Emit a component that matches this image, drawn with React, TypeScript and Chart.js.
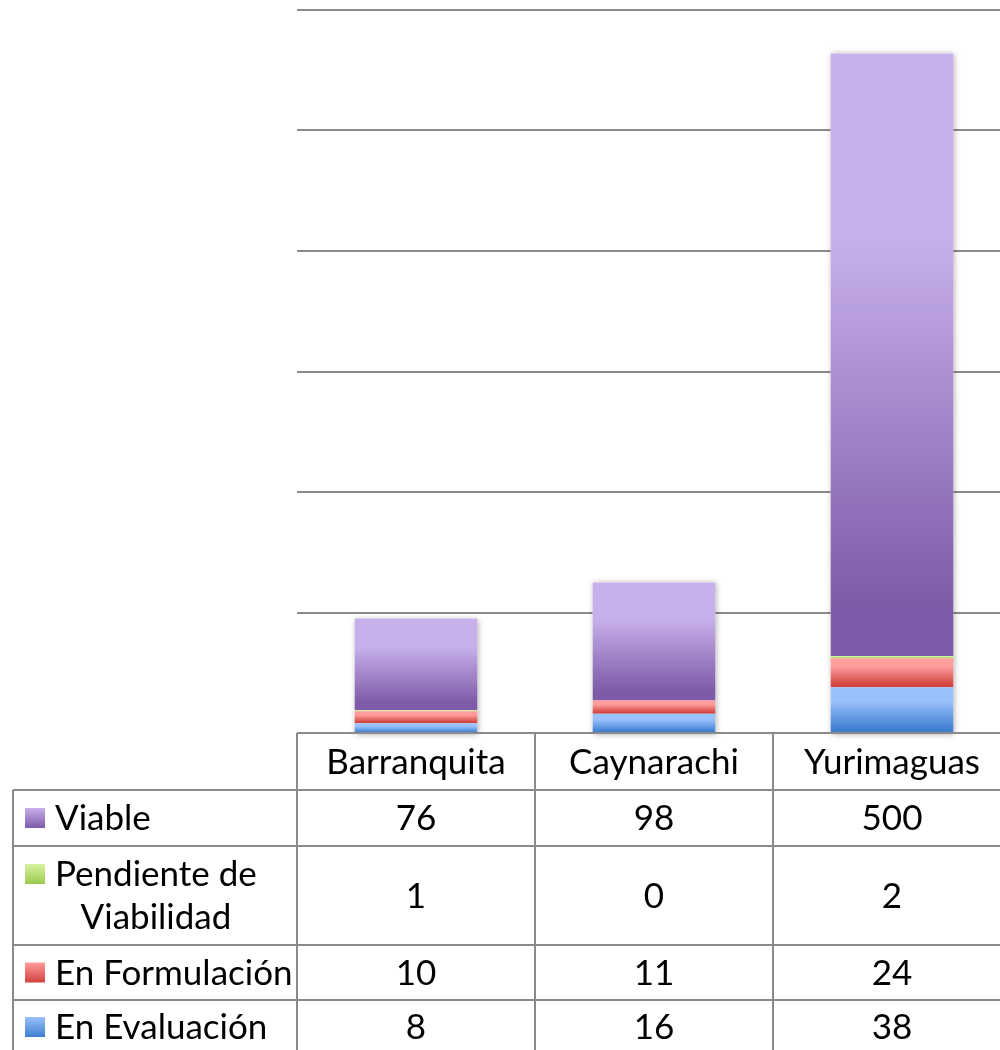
import React, { useEffect, useRef } from "react";
import { Chart, registerables } from "chart.js";

Chart.register(...registerables);

const categories = ["Barranquita", "Caynarachi", "Yurimaguas"];
const enEvaluacion = [8, 16, 38];
const enFormulacion = [10, 11, 24];
const pendienteViabilidad = [1, 0, 2];
const viable = [76, 98, 500];
const yMin = 0;
const yMax = 600;
const yStep = 100;

// stack order bottom -> top
const seriesLabels = ["En Evaluación", "En Formulación", "Pendiente de Viabilidad", "Viable"];
const seriesValues = [enEvaluacion, enFormulacion, pendienteViabilidad, viable];
const seriesLight = ["#99c1fb", "#fe9d9c", "#d7f2a0", "#c8b1eb"];
const seriesDark = ["#3e7fd1", "#d2423e", "#9bca4e", "#7d5ba8"];

// table rows (top -> bottom) with wrapped legend labels
const tableRows = [
  { series: 3, lines: ["Viable"] },
  { series: 2, lines: ["Pendiente de", "Viabilidad"] },
  { series: 1, lines: ["En Formulación"] },
  { series: 0, lines: ["En Evaluación"] },
];

const FONT = "35px Lato, 'Noto Sans', sans-serif";
const LINE = "#8a8a8a";

function makeGradient(ctx: CanvasRenderingContext2D, y0: number, y1: number, s: number) {
  if (!isFinite(y0) || !isFinite(y1) || Math.abs(y1 - y0) < 0.5) return seriesLight[s];
  const g = ctx.createLinearGradient(0, y0, 0, y1);
  g.addColorStop(0, seriesLight[s]);
  g.addColorStop(0.3, seriesLight[s]);
  g.addColorStop(0.92, seriesDark[s]);
  g.addColorStop(1, seriesDark[s]);
  return g;
}

const shadowPlugin = {
  id: "barShadow",
  beforeDatasetsDraw(chart: any) {
    const ctx = chart.ctx as CanvasRenderingContext2D;
    const yScale = chart.scales.y;
    const first = chart.getDatasetMeta(0);
    categories.forEach((_, i) => {
      const el = first.data[i];
      if (!el) return;
      let total = 0;
      seriesValues.forEach((v) => (total += v[i]));
      const top = yScale.getPixelForValue(total);
      const base = yScale.getPixelForValue(0);
      const w = el.width;
      ctx.save();
      ctx.shadowColor = "rgba(0,0,0,0.35)";
      ctx.shadowBlur = 6;
      ctx.shadowOffsetX = 1;
      ctx.shadowOffsetY = 1;
      ctx.fillStyle = "#ffffff";
      ctx.fillRect(el.x - w / 2, top, w, base - top);
      ctx.restore();
    });
  },
};

const tablePlugin = {
  id: "dataTable",
  afterDraw(chart: any) {
    const ctx = chart.ctx as CanvasRenderingContext2D;
    const xs = chart.scales.x;
    const area = chart.chartArea;
    const n = categories.length;
    const colW = (xs.right - xs.left) / n;
    const left = xs.left;
    const right = xs.right;
    const legendLeft = 13;
    const headerTop = area.bottom;
    const headerH = 57;
    const rowHeights = [56, 99, 55, 60];

    ctx.save();
    ctx.strokeStyle = LINE;
    ctx.lineWidth = 2;
    ctx.font = FONT;
    ctx.fillStyle = "#000000";
    ctx.textBaseline = "middle";

    // header row
    const rowsTop = headerTop + headerH;
    ctx.beginPath();
    ctx.moveTo(left, headerTop);
    ctx.lineTo(right, headerTop);
    ctx.stroke();
    ctx.textAlign = "center";
    categories.forEach((c, i) => {
      ctx.fillText(c, xs.getPixelForValue(i), headerTop + headerH / 2 + 1);
    });

    // horizontal lines
    let y = rowsTop;
    const ys: number[] = [y];
    rowHeights.forEach((h) => {
      y += h;
      ys.push(y);
    });
    ys.forEach((yy, k) => {
      if (k === ys.length - 1) return;
      ctx.beginPath();
      ctx.moveTo(legendLeft, yy);
      ctx.lineTo(right, yy);
      ctx.stroke();
    });
    // vertical lines
    const bottom = ys[ys.length - 1];
    ctx.beginPath();
    ctx.moveTo(legendLeft, rowsTop);
    ctx.lineTo(legendLeft, bottom);
    for (let i = 0; i <= n; i++) {
      const x = left + colW * i;
      ctx.moveTo(x, headerTop);
      ctx.lineTo(x, bottom);
    }
    ctx.stroke();

    // rows
    tableRows.forEach((row, r) => {
      const t = ys[r];
      const h = rowHeights[r];
      const cy = r === rowHeights.length - 1 ? t + 27 : t + h / 2;
      // swatch
      const sw = 20;
      const sx = 25;
      const lineH = 43;
      const firstLineY = cy - ((row.lines.length - 1) * lineH) / 2;
      const sy = firstLineY - sw / 2;
      const g = ctx.createLinearGradient(0, sy, 0, sy + sw);
      g.addColorStop(0, seriesLight[row.series]);
      g.addColorStop(1, seriesDark[row.series]);
      ctx.fillStyle = g;
      ctx.fillRect(sx, sy, sw, sw);
      ctx.fillStyle = "#000000";
      // label
      ctx.textAlign = "left";
      const textX = 55;
      const w0 = ctx.measureText(row.lines[0]).width;
      row.lines.forEach((ln, k) => {
        const yy = firstLineY + k * lineH + 1;
        if (k === 0) {
          ctx.fillText(ln, textX, yy);
        } else {
          const wk = ctx.measureText(ln).width;
          ctx.fillText(ln, textX + (w0 - wk) / 2, yy);
        }
      });
      // values
      ctx.textAlign = "center";
      const vals = seriesValues[row.series];
      vals.forEach((v, i) => {
        ctx.fillText(String(v), xs.getPixelForValue(i), cy + 1);
      });
    });
    ctx.restore();
  },
};

export default function App() {
  const canvasRef = useRef<HTMLCanvasElement | null>(null);

  useEffect(() => {
    const canvas = canvasRef.current;
    if (!canvas) return;
    const datasets = seriesValues.map((vals, s) => ({
      label: seriesLabels[s],
      data: vals,
      borderWidth: 0,
      categoryPercentage: 1,
      barPercentage: 0.515,
      backgroundColor: (c: any) => {
        const chart = c.chart;
        const ys = chart.scales && chart.scales.y;
        if (!ys || !chart.chartArea || c.dataIndex === undefined) return seriesLight[s];
        let below = 0;
        for (let k = 0; k < s; k++) below += seriesValues[k][c.dataIndex];
        const top = below + vals[c.dataIndex];
        return makeGradient(chart.ctx, ys.getPixelForValue(top), ys.getPixelForValue(below), s);
      },
    }));
    const chart = new Chart(canvas, {
      type: "bar",
      data: { labels: categories, datasets },
      options: {
        responsive: false,
        animation: false,
        maintainAspectRatio: false,
        layout: { padding: { left: 297, right: 0, top: 10, bottom: 317 } },
        plugins: {
          legend: { display: false },
          tooltip: { enabled: false },
          title: { display: false },
        },
        scales: {
          x: {
            stacked: true,
            grid: { display: false, drawTicks: false },
            border: { display: false },
            ticks: { display: false },
            afterFit: (s: any) => {
              s.height = 0;
            },
          },
          y: {
            stacked: true,
            min: yMin,
            max: yMax,
            ticks: { display: false, stepSize: yStep },
            grid: { color: LINE, lineWidth: 2, drawTicks: false },
            border: { display: false },
            afterFit: (s: any) => {
              s.width = 0;
            },
          },
        },
      },
      plugins: [shadowPlugin, tablePlugin],
    });
    return () => chart.destroy();
  }, []);

  return (
    <div
      style={{
        position: "fixed",
        left: 0,
        top: 0,
        width: 1000,
        height: 1050,
        overflow: "hidden",
        background: "#ffffff",
      }}
    >
      <canvas ref={canvasRef} width={1011} height={1050} style={{ display: "block" }} />
    </div>
  );
}
